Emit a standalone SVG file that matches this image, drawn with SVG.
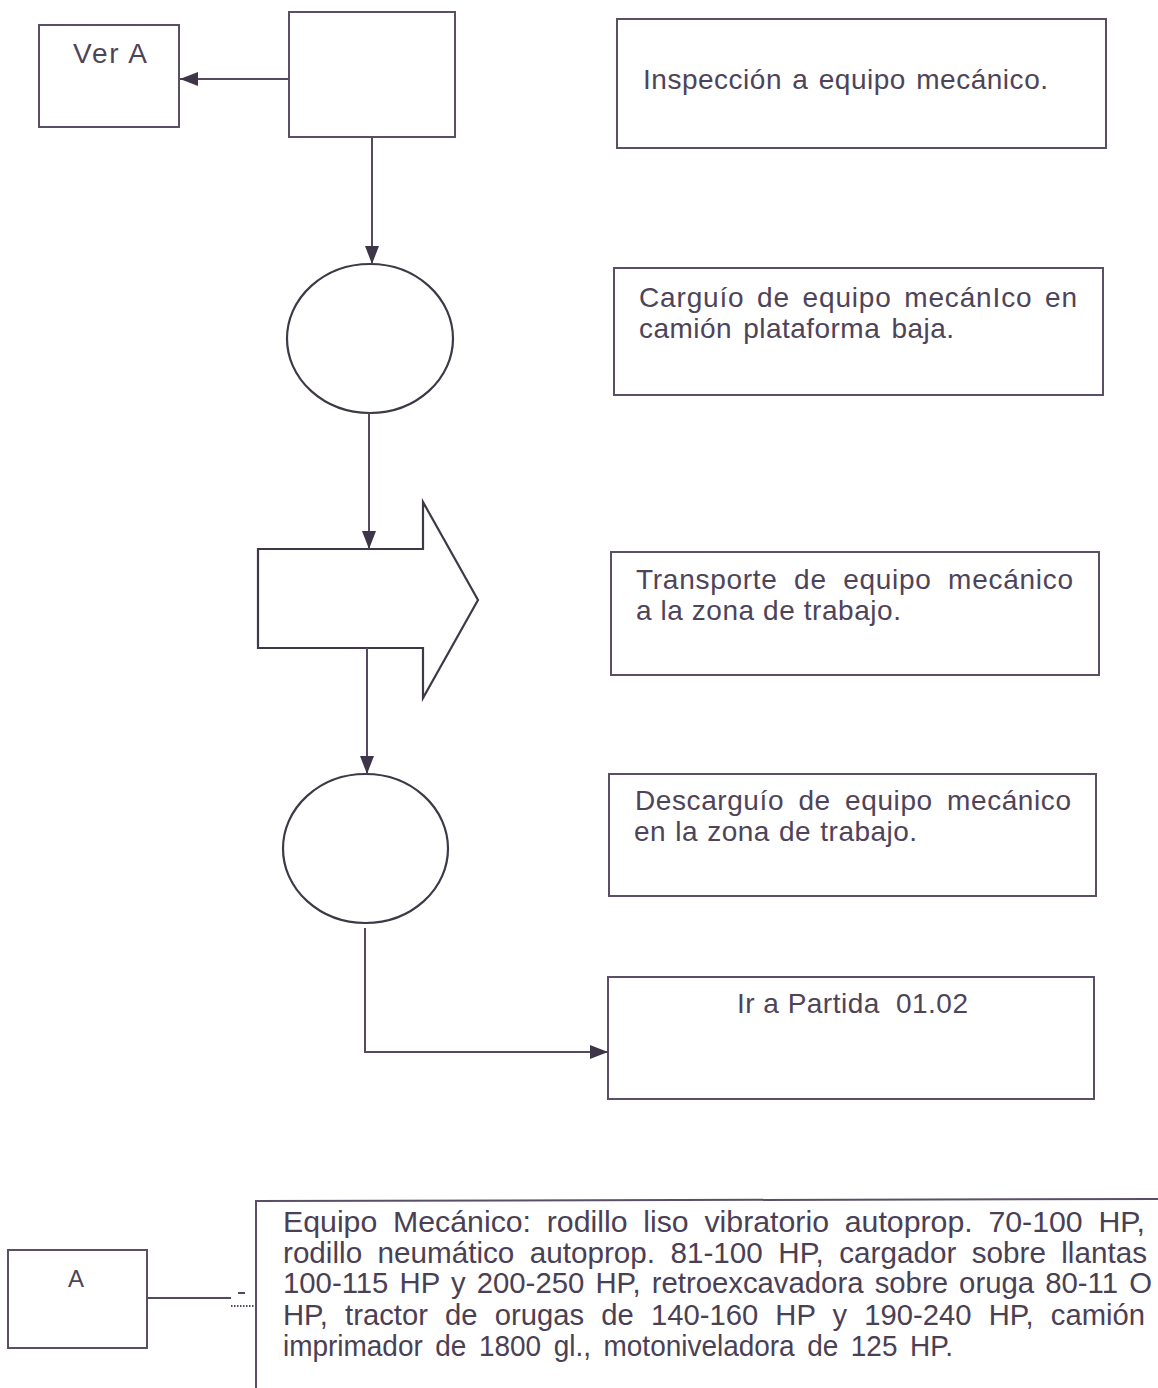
<svg xmlns="http://www.w3.org/2000/svg" width="1158" height="1388" viewBox="0 0 1158 1388">
  <defs>
    <marker id="arrow" markerUnits="userSpaceOnUse" markerWidth="18" markerHeight="14" refX="18" refY="7" orient="auto">
      <path d="M0,0 L18,7 L0,14 Z" fill="#3f3548"/>
    </marker>
    <style>
      .box { fill: #ffffff; stroke: #5a4f66; stroke-width: 2; }
      .shape { fill: #ffffff; stroke: #3f3846; stroke-width: 2.2; }
      .link { fill: none; stroke: #54495f; stroke-width: 2; }
      .txt { font-family: "Liberation Sans", Arial, sans-serif; font-size: 28px; fill: #4e4459; }
      .note { font-family: "Liberation Sans Narrow", "Liberation Sans", Arial, sans-serif; font-size: 29px; fill: #4a4055; }
    </style>
  </defs>
  <rect width="1158" height="1388" fill="#ffffff"/>

  <!-- process flow symbols -->
  <g id="ver-a">
    <rect class="box" x="39" y="25" width="140" height="102"/>
    <text class="txt" x="73" y="63" textLength="74" lengthAdjust="spacing">Ver A</text>
  </g>
  <g id="inspeccion-symbol">
    <rect class="box" x="289" y="12" width="166" height="125"/>
  </g>
  <g id="carguio-symbol">
    <ellipse class="shape" cx="370" cy="338.5" rx="83" ry="74.5"/>
  </g>
  <g id="transporte-symbol">
    <polygon class="shape" points="258,549 423,549 423,502 478,600 423,698 423,648 258,648"/>
  </g>
  <g id="descarguio-symbol">
    <ellipse class="shape" cx="365.5" cy="848.5" rx="82.5" ry="74.5"/>
  </g>

  <!-- descriptions -->
  <g id="inspeccion-text">
    <rect class="box" x="617" y="19" width="489" height="129"/>
    <text class="txt" x="643" y="89" word-spacing="2" textLength="405" lengthAdjust="spacing">Inspección a equipo mecánico.</text>
  </g>
  <g id="carguio-text">
    <rect class="box" x="614" y="268" width="489" height="127"/>
    <text class="txt" x="639" y="307" word-spacing="4" textLength="438" lengthAdjust="spacing">Carguío de equipo mecánIco en</text>
    <text class="txt" x="639" y="338" word-spacing="3" textLength="315" lengthAdjust="spacing">camión plataforma baja.</text>
  </g>
  <g id="transporte-text">
    <rect class="box" x="611" y="552" width="488" height="123"/>
    <text class="txt" x="636" y="589" word-spacing="8" textLength="437" lengthAdjust="spacing">Transporte de equipo mecánico</text>
    <text class="txt" x="636" y="620" textLength="265" lengthAdjust="spacing">a la zona de trabajo.</text>
  </g>
  <g id="descarguio-text">
    <rect class="box" x="609" y="774" width="487" height="122"/>
    <text class="txt" x="635" y="810" word-spacing="6" textLength="436" lengthAdjust="spacing">Descarguío de equipo mecánico</text>
    <text class="txt" x="634" y="841" word-spacing="1" textLength="283" lengthAdjust="spacing">en la zona de trabajo.</text>
  </g>
  <g id="ir-a-partida">
    <rect class="box" x="608" y="977" width="486" height="122"/>
    <text class="txt" x="737" y="1013" textLength="231" lengthAdjust="spacing">Ir a Partida <tspan dx="8">01.02</tspan></text>
  </g>

  <!-- legend for A -->
  <g id="a">
    <rect class="box" x="8" y="1250" width="139" height="98"/>
    <text class="txt" x="68" y="1287" style="font-size:24px">A</text>
  </g>
  <g id="equipo-mecanico">
    <path class="box" d="M256,1388 L256,1201 L1158,1199" fill="none"/>
    <text class="note" x="283" y="1232" word-spacing="7" textLength="862" lengthAdjust="spacingAndGlyphs">Equipo Mecánico: rodillo liso vibratorio autoprop. 70-100 HP,</text>
    <text class="note" x="283" y="1263" word-spacing="7" textLength="864" lengthAdjust="spacingAndGlyphs">rodillo neumático autoprop. 81-100 HP, cargador sobre llantas</text>
    <text class="note" x="283" y="1293" word-spacing="3" textLength="869" lengthAdjust="spacingAndGlyphs">100-115 HP y 200-250 HP, retroexcavadora sobre oruga 80-11 O</text>
    <text class="note" x="283" y="1325" word-spacing="9" textLength="862" lengthAdjust="spacingAndGlyphs">HP, tractor de orugas de 140-160 HP y 190-240 HP, camión</text>
    <text class="note" x="283" y="1356" word-spacing="5" textLength="670" lengthAdjust="spacingAndGlyphs">imprimador de 1800 gl., motoniveladora de 125 HP.</text>
  </g>

  <!-- connectors -->
  <g id="connectors">
    <line class="link" x1="289" y1="79" x2="180" y2="79" marker-end="url(#arrow)"/>
    <line class="link" x1="372" y1="137" x2="372" y2="264" marker-end="url(#arrow)"/>
    <line class="link" x1="369" y1="413" x2="369" y2="549" marker-end="url(#arrow)"/>
    <line class="link" x1="367" y1="648" x2="367" y2="774" marker-end="url(#arrow)"/>
    <polyline class="link" points="365,928 365,1052 608,1052" marker-end="url(#arrow)"/>
    <line class="link" x1="147" y1="1298" x2="231" y2="1298" stroke-width="1.6"/>
    <line class="link" x1="238" y1="1293" x2="245" y2="1293" stroke-width="1.5"/>
    <line class="link" x1="231" y1="1306" x2="255" y2="1306" stroke-width="1.5" stroke-dasharray="1.5,1.5"/>
  </g>
</svg>
